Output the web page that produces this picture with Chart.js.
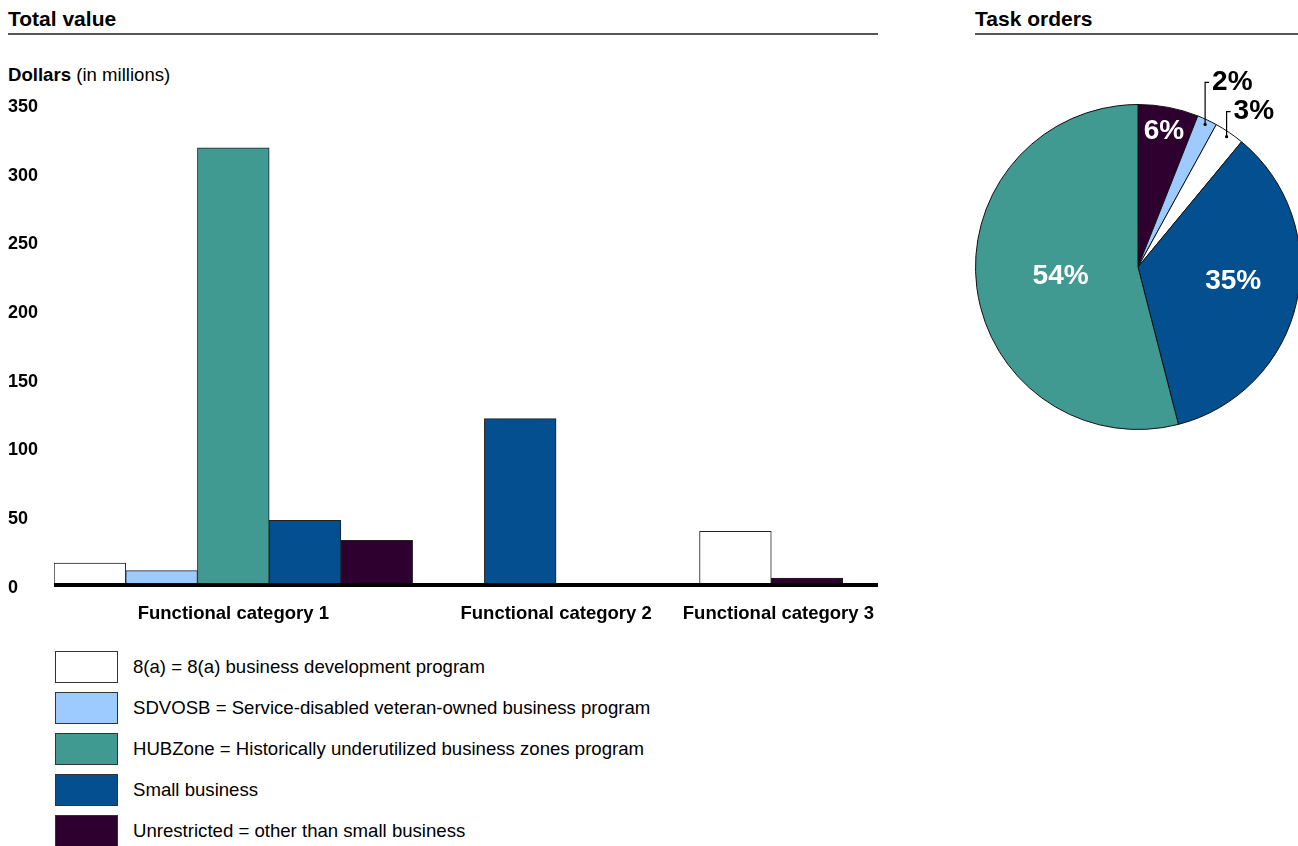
<!DOCTYPE html>
<html>
<head>
<meta charset="utf-8">
<script src="https://cdn.jsdelivr.net/npm/chart.js@4.4.1/dist/chart.umd.min.js"></script>
<style>
  html, body { margin: 0; padding: 0; background: #fff; overflow: hidden; }
  body { width: 1298px; height: 846px; position: relative; font-family: "Liberation Sans", Arial, sans-serif; color: #000; }
  .title { position: absolute; top: 7px; font-size: 21px; font-weight: bold; line-height: 24px; }
  .rule { position: absolute; top: 33px; height: 2px; background: #555; }
  .unit { position: absolute; left: 8px; top: 64px; font-size: 18.6px; line-height: 22px; }
  #barChart { position: absolute; left: 0; top: 90px; }
  #pieChart { position: absolute; left: 960px; top: 40px; }
  #legend { position: absolute; left: 55px; top: 651px; }
  .leg-row { display: flex; align-items: center; height: 41px; }
  .leg-row .box { width: 63px; height: 32px; box-sizing: border-box; border: 1px solid #333; margin-top: -9px; }
  .leg-row .txt { margin-left: 15px; font-size: 18.6px; margin-top: -9px; }
</style>
</head>
<body>
<div class="title" style="left:8px">Total value</div>
<div class="rule" style="left:8px;width:870px"></div>
<div class="unit"><b>Dollars</b> (in millions)</div>
<div class="title" style="left:975px">Task orders</div>
<div class="rule" style="left:975px;width:323px"></div>
<canvas id="barChart" width="878" height="540"></canvas>
<canvas id="pieChart" width="356" height="460"></canvas>
<div id="legend"></div>
<script>
// Data
var categories = ['Functional category 1', 'Functional category 2', 'Functional category 3'];
var seriesNames = ['8(a)', 'SDVOSB', 'HUBZone', 'Small business', 'Unrestricted'];
var legendText = [
  '8(a) = 8(a) business development program',
  'SDVOSB = Service-disabled veteran-owned business program',
  'HUBZone = Historically underutilized business zones program',
  'Small business',
  'Unrestricted = other than small business'
];
// dollars in millions per category (null = no bar in that group)
var val8a = [16, null, 39];
var valSdvosb = [10.5, null, null];
var valHubzone = [318, null, null];
var valSmall = [47, 121, null];
var valUnrestricted = [32.5, 0, 5];
var yTicks = [0, 50, 100, 150, 200, 250, 300, 350];

// task orders share, clockwise from the top
var pieNames = ['Unrestricted', 'SDVOSB', '8(a)', 'Small business', 'HUBZone'];
var pieValues = [6, 2, 3, 35, 54];

var colors = {
  '8(a)': '#ffffff',
  'SDVOSB': '#9dcbff',
  'HUBZone': '#409a92',
  'Small business': '#044f8f',
  'Unrestricted': '#2e0030'
};

var FONT = '"Liberation Sans", Arial, sans-serif';
Chart.defaults.font.family = FONT;
Chart.defaults.color = '#000';

// legend
(function() {
  var leg = document.getElementById('legend');
  seriesNames.forEach(function(n, i) {
    var row = document.createElement('div');
    row.className = 'leg-row';
    row.innerHTML = '<div class="box" style="background:' + colors[n] + '"></div><div class="txt">' + legendText[i] + '</div>';
    leg.appendChild(row);
  });
})();

// Bars: one slot per drawn bar, one empty slot between groups
var seriesVals = [val8a, valSdvosb, valHubzone, valSmall, valUnrestricted];
var slots = [];
categories.forEach(function(c, ci) {
  if (ci > 0) slots.push({ cat: -1, s: -1 });
  seriesVals.forEach(function(v, si) {
    if (v[ci] !== null) slots.push({ cat: ci, s: si });
  });
});

var barDatasets = seriesNames.map(function(n, si) {
  return {
    label: n,
    data: slots.map(function(sl) { return sl.s === si ? seriesVals[si][sl.cat] : null; }),
    backgroundColor: colors[n],
    borderColor: '#222',
    borderWidth: 1,
    skipNull: true,
    barPercentage: 1,
    categoryPercentage: 1
  };
});

var baselinePlugin = {
  id: 'baseline',
  afterDatasetsDraw: function(chart) {
    var ctx = chart.ctx, y = chart.scales.y.getPixelForValue(0);
    ctx.save();
    ctx.strokeStyle = '#000';
    ctx.lineWidth = 4;
    ctx.beginPath();
    ctx.moveTo(chart.chartArea.left, y);
    ctx.lineTo(chart.width, y);
    ctx.stroke();
    ctx.restore();
  },
  afterDraw: function(chart) {
    var ctx = chart.ctx, xs = chart.scales.x;
    ctx.save();
    ctx.font = 'bold 18.5px ' + FONT;
    ctx.fillStyle = '#000';
    ctx.textAlign = 'center';
    ctx.textBaseline = 'middle';
    categories.forEach(function(c, ci) {
      var idx = [];
      slots.forEach(function(sl, i) { if (sl.cat === ci) idx.push(i); });
      var x = (xs.getPixelForValue(idx[0]) + xs.getPixelForValue(idx[idx.length - 1])) / 2;
      var w = ctx.measureText(c).width;
      // last group label is pushed to the end of the axis
      if (ci === categories.length - 1) x = chart.width - 4 - w / 2;
      ctx.fillText(c, x, chart.chartArea.bottom + 29);
    });
    ctx.restore();
  }
};

new Chart(document.getElementById('barChart'), {
  type: 'bar',
  data: { labels: slots.map(function() { return ''; }), datasets: barDatasets },
  options: {
    responsive: false,
    animation: false,
    layout: { padding: { left: 8, top: 13, right: 35, bottom: 45 } },
    plugins: { legend: { display: false }, tooltip: { enabled: false } },
    scales: {
      x: { display: false },
      y: {
        min: 0, max: 350,
        afterBuildTicks: function(s) { s.ticks = yTicks.map(function(v) { return { value: v }; }); },
        afterFit: function(s) { s.width = 46; },
        grid: { display: false },
        border: { display: false },
        ticks: { crossAlign: 'far', labelOffset: 3, font: { size: 18, weight: 'bold' }, color: '#000' }
      }
    }
  },
  plugins: [baselinePlugin]
});

// Pie
var pieLabelStyle = [
  { inside: true, r: 0.85, dy: 0 },
  { inside: false, r: 0.97, lift: 42 },
  { inside: false, r: 0.97, lift: 25 },
  { inside: true, r: 0.6, dy: -7 },
  { inside: true, r: 0.48, dy: 0 }
];

var pieLabelPlugin = {
  id: 'pieLabels',
  afterDraw: function(chart) {
    var ctx = chart.ctx, meta = chart.getDatasetMeta(0);
    ctx.save();
    ctx.font = 'bold 28px ' + FONT;
    ctx.textBaseline = 'middle';
    meta.data.forEach(function(arc, i) {
      var p = arc.getProps(['x', 'y', 'startAngle', 'endAngle', 'outerRadius'], true);
      var mid = (p.startAngle + p.endAngle) / 2;
      var st = pieLabelStyle[i];
      var px = p.x + Math.cos(mid) * p.outerRadius * st.r;
      var py = p.y + Math.sin(mid) * p.outerRadius * st.r;
      var text = pieValues[i] + '%';
      if (st.inside) {
        ctx.fillStyle = '#fff';
        ctx.textAlign = 'center';
        ctx.fillText(text, px, py + st.dy);
      } else {
        ctx.fillStyle = '#000';
        ctx.strokeStyle = '#000';
        ctx.lineWidth = 1.2;
        ctx.beginPath();
        ctx.arc(px, py, 1.6, 0, Math.PI * 2);
        ctx.fill();
        ctx.beginPath();
        ctx.moveTo(px, py);
        ctx.lineTo(px, py - st.lift);
        ctx.lineTo(px + 4, py - st.lift);
        ctx.stroke();
        ctx.textAlign = 'left';
        ctx.fillText(text, px + 7, py - st.lift);
      }
    });
    ctx.restore();
  }
};

new Chart(document.getElementById('pieChart'), {
  type: 'pie',
  data: {
    labels: pieNames,
    datasets: [{
      data: pieValues,
      backgroundColor: pieNames.map(function(n) { return colors[n]; }),
      borderColor: '#111',
      borderWidth: 1
    }]
  },
  options: {
    responsive: false,
    animation: false,
    layout: { padding: { left: 15, top: 64, right: 15, bottom: 70 } },
    plugins: { legend: { display: false }, tooltip: { enabled: false } }
  },
  plugins: [pieLabelPlugin]
});
</script>
</body>
</html>
